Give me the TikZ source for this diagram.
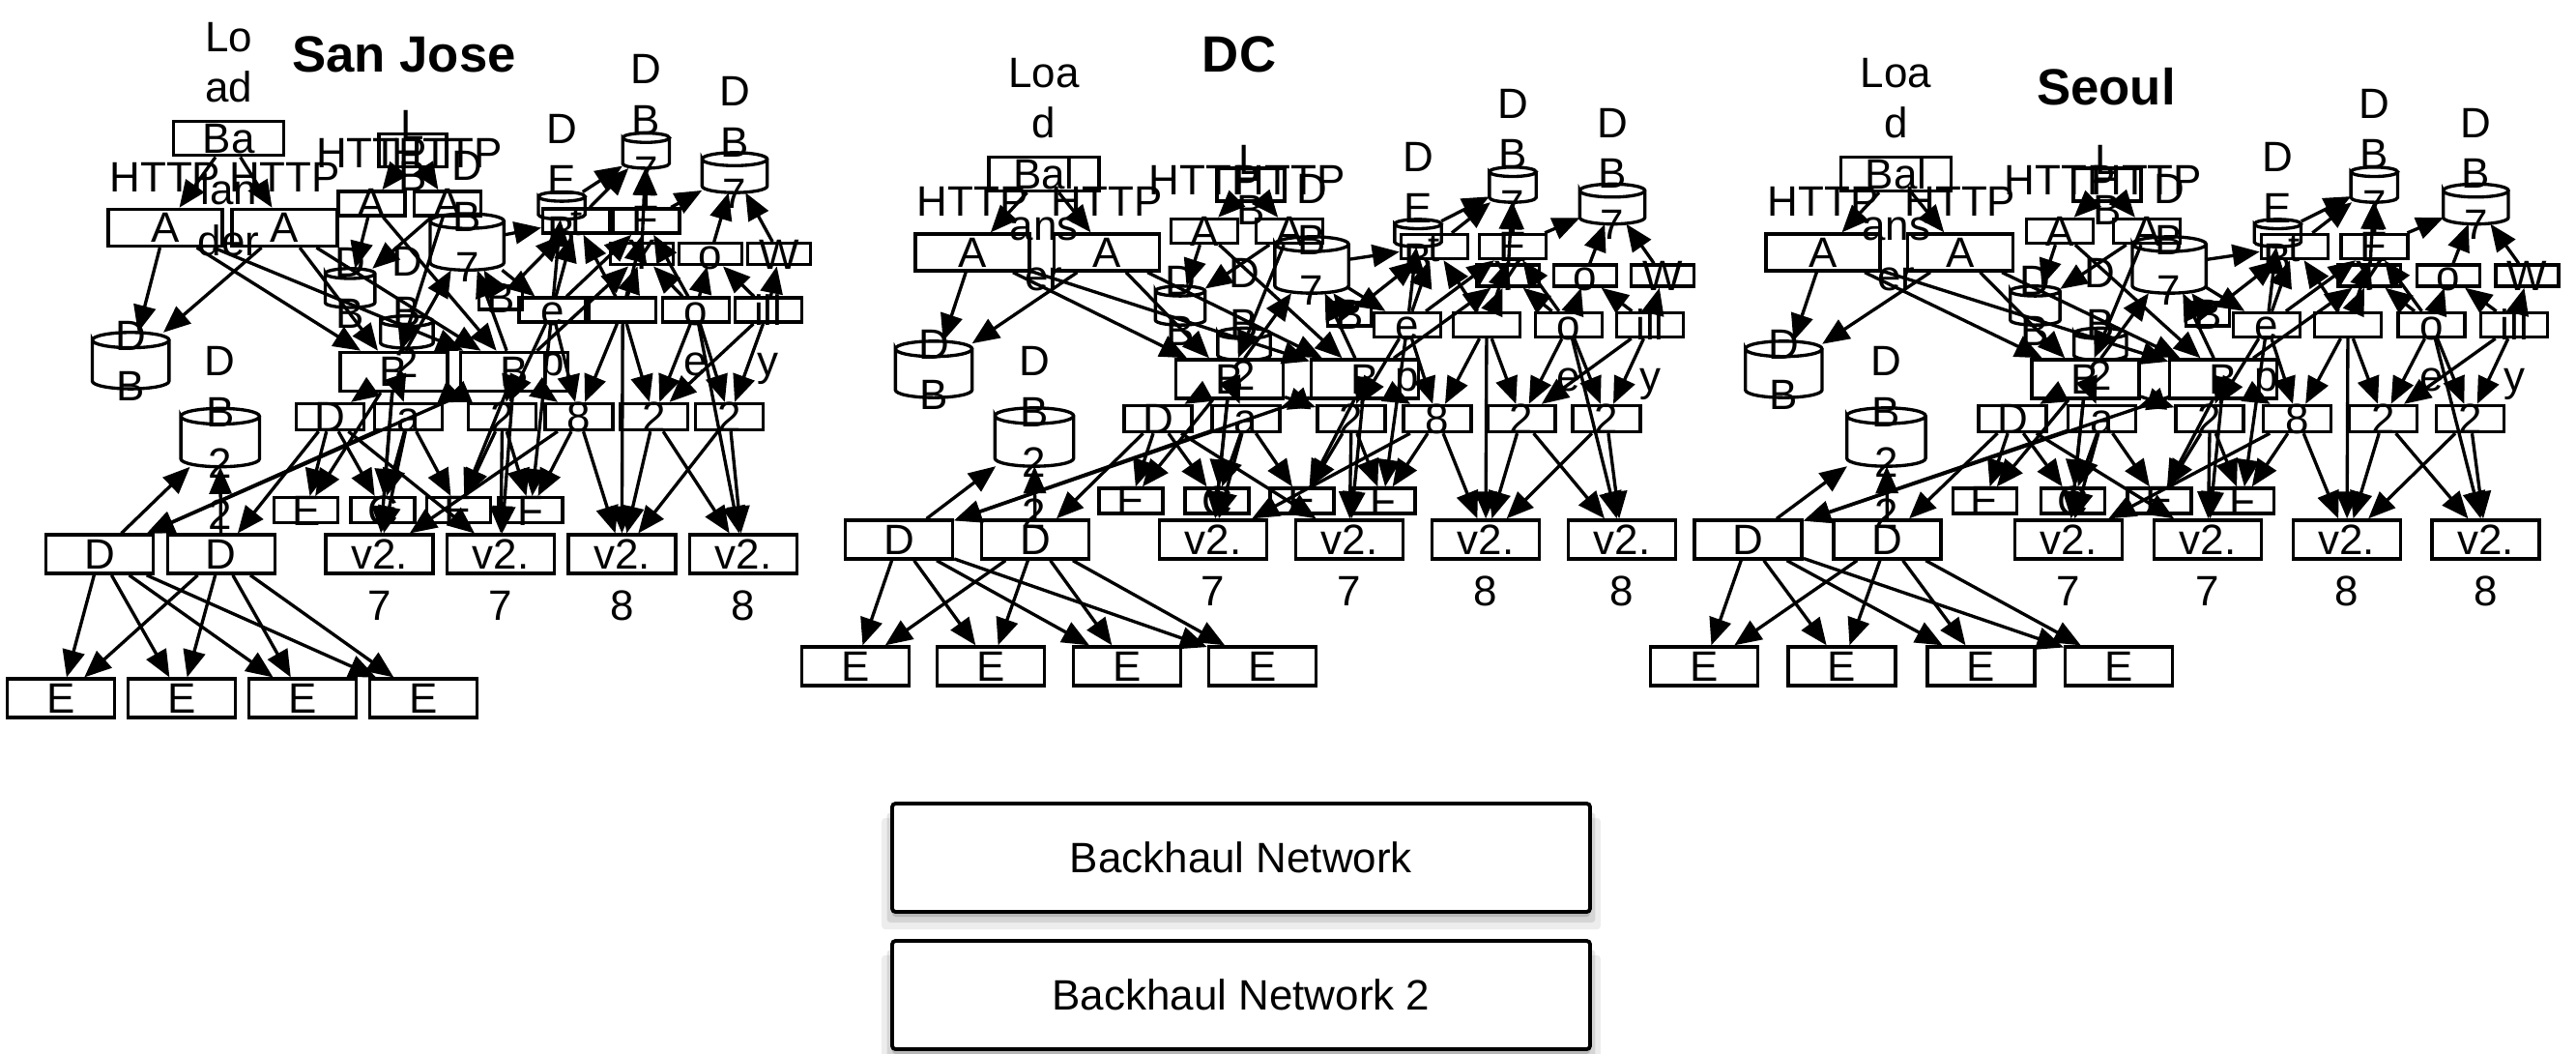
\documentclass[tikz,border=0pt]{standalone}
\usepackage{fontspec}
\setmainfont{Liberation Sans}
\usetikzlibrary{arrows.meta}
\usetikzlibrary{calc,shadows}
\tikzset{
  box/.style={draw, rectangle, inner sep=0pt, line width=1.9pt},
  wide/.style={minimum width=2.22cm, minimum height=.8cm},
  narrow/.style={minimum width=1.38cm, minimum height=.5cm},
  sitename/.style={font=\bfseries\fontsize{30}{36}\selectfont},
  haul/.style={draw, line width=2.2pt, rounded corners=2pt, fill=white,
    minimum width=14.44cm, minimum height=2.24cm,
    general shadow={fill=black, opacity=.07, shadow scale=1.03, shadow yshift=-.32cm},
    general shadow={fill=black, opacity=.1, shadow scale=1.015, shadow yshift=-.2cm},
    general shadow={fill=black, opacity=.14, shadow yshift=-.1cm}}
}
% text that runs out of its box, centred on the box
\newcommand\ov[2][0]{\makebox[0pt]{\smash{\raisebox{\dimexpr#1\baselineskip-.36em\relax}{\begin{tabular}{@{}c@{}}#2\end{tabular}}}}}
% database: name, position, width, height, raise, text
\newcommand\dbnode[6]{%
  \node[box,draw=none,minimum width=#3,minimum height=#4] (#1) at (#2) {\ov[#5]{#6}};
  \draw[reset cm,line width=1.9pt] let \p1=(#1.north west), \p2=(#1.south east),
      \n1={(\x2-\x1)/2}, \n2={.2*(\x2-\x1)/2} in
    (\x1,\y1-\n2) arc[start angle=180,end angle=-180,x radius=\n1,y radius=\n2]
    -- (\x1,\y2+\n2) arc[start angle=180,end angle=360,x radius=\n1,y radius=\n2]
    -- (\x2,\y1-\n2);
}

% one site, drawn in DC coordinates
\newcommand\drawsite[1]{%
  \node[box,minimum width=2.28cm,minimum height=.7cm] (lb) at (21.6,-3.6) {\ov{#1}};
  \node[box,minimum width=1.4cm,minimum height=.68cm] (lb2) at (25.88,-3.82) {\ov{L\\B}};
  \node[box,minimum width=2.36cm,minimum height=.76cm] (a1) at (20.12,-5.22) {\ov[.5]{HTTP\\A}};
  \node[box,minimum width=2.18cm,minimum height=.76cm] (a2) at (22.9,-5.22) {\ov[.5]{HTTP\\A}};
  \node[box,narrow] (a3) at (24.92,-4.78) {\ov[.5]{HTTP\\A}};
  \node[box,narrow] (a4) at (26.68,-4.78) {\ov[.5]{HTTP\\A}};
  \dbnode{db1}{19.32,-7.64}{1.52cm}{1.1cm}{0}{D\\B}
  \dbnode{db2}{21.4,-9.04}{1.56cm}{1.14cm}{0}{D\\B\\2\\2}
  \dbnode{db7}{27.14,-5.48}{1.46cm}{1.1cm}{.5}{D\\B\\7}
  \dbnode{dbs1}{24.42,-6.32}{.96cm}{.74cm}{0}{D\\B}
  \dbnode{dbs2}{25.74,-7.12}{1.02cm}{.6cm}{.4}{D\\B\\2}
  \dbnode{dbe}{29.34,-4.82}{.9cm}{.5cm}{.5}{D\\E\\B}
  \dbnode{dbt}{31.3,-3.82}{.9cm}{.66cm}{.6}{D\\B\\7}
  \dbnode{dbw}{33.36,-4.22}{1.28cm}{.76cm}{.6}{D\\B\\7}
  \node[box,wide] (b1) at (25.44,-7.84) {\ov{B}};
  \node[box,wide] (b2) at (28.24,-7.84) {\ov{B}};
  \node[box,minimum width=.9cm,minimum height=.48cm] (bs) at (27.92,-6.5) {\ov{B}};
  \foreach \n/\x/\t in {1/29.68/t,2/31.3/E}
    \node[box,narrow] (t\n) at (\x,-5.1) {\ov{\t}};
  \foreach \n/\x/\t in {1/31.2/Y,2/32.8/o,3/34.4/W}
    \node[box,minimum width=1.3cm,minimum height=.44cm] (u\n) at (\x,-5.7) {\ov{\t}};
  \foreach \n/\x/\t in {1/29.12/e\\p,2/30.76//\\e,3/32.46/o\\e,4/34.14/ill\\y}
    \node[box,narrow] (r\n) at (\x,-6.72) {\ov[-.5]{\t}};
  \foreach \n/\x/\t in {1/23.96/D,2/25.78/a,3/27.96/2,4/29.74/8,5/31.48/2,6/33.24/2}
    \node[box,minimum width=1.4cm,minimum height=.54cm] (s\n) at (\x,-8.66) {\ov{\t}};
  \foreach \n/\x/\t in {1/23.4/E,2/25.18/C,3/26.94/E,4/28.62/F}
    \node[box,minimum width=1.32cm,minimum height=.52cm] (k\n) at (\x,-10.36) {\ov{\t}};
  \foreach \n/\x/\t in {1/25.1/7,2/27.92/7,3/30.74/8,4/33.56/8}
    \node[box,wide] (v\n) at (\x,-11.16) {\ov[-.5]{v2.\\\t}};
  \foreach \n/\x in {1/18.6,2/21.42}
    \node[box,wide] (d\n) at (\x,-11.16) {\ov{D}};
  \foreach \n/\x in {1/17.7,2/20.5,3/23.32,4/26.12}
    \node[box,wide] (e\n) at (\x,-13.78) {\ov{E}};
  % connectors
  \foreach \a/\b in {lb/a1,lb/a2,lb2/a3,lb2/a4,a1/db1,a2/db1,a1/b1,a2/b1,a1/b2,a2/b2,
      a3/dbs1,a4/dbs1,a3/b2,a4/b1,b1/db7,b2/db7,bs/db7,db7/r1,db7/t1,
      r1/t1,r1/t2,r2/t1,r2/t2,r2/u1,r3/t2,r3/u1,r3/u2,r4/u2,r4/u3,r1/dbe,bs/t1,b2/u1,
      t1/dbt,t2/dbt,u1/dbt,t2/dbw,u2/dbw,u3/dbw,dbe/dbt}
    \draw[conn] (\a) -- (\b);
  \foreach \a/\b in {b1/s1,b1/s2,b1/s3,b1/k1,b1/k2,b1/v1,b2/s2,b2/s3,b2/s4,b2/k3,b2/v2,b2/d1,
      r1/s3,r1/s4,r1/k4,r2/s4,r2/s5,r2/v3,r3/s5,r3/s6,r3/v4,r4/s6,r4/s5,
      s1/k1,s1/k2,s1/v2,s2/k2,s2/k3,s2/v1,s2/d1,s3/k3,s3/v2,s3/k4,s4/k4,s4/v3,s4/v1,
      s5/v4,s5/v3,s6/v4,s6/v3,s1/d2,d1/db2,d2/db2}
    \draw[conn] (\a) -- (\b);
  \foreach \a in {d1,d2}
    \foreach \b in {e1,e2,e3,e4}
      \draw[conn] (\a) -- (\b);
}

\begin{document}
\begin{tikzpicture}[
% arrow heads for all connectors
conn/.style={line width=1.9pt,-{Triangle[length=.56cm,width=.46cm]}},
every node/.style={font=\fontsize{25}{30}\selectfont}]
\useasboundingbox (0,0) rectangle (53.3,-21.78);

\node[sitename] (sjname) at (8.36,-1.12) {San Jose};
\node[sitename] (dcname) at (25.64,-1.12) {DC};
\node[sitename] (seoulname) at (43.58,-1.8) {Seoul};

\begin{scope}[name prefix=sj-, shift={(-14.49,1.228)}, xscale=.89, yscale=1.137]
  \drawsite{Lo\\ad\\Ba\\lan\\der}
\end{scope}
\begin{scope}[name prefix=dc-]
  \drawsite{Loa\\d\\Bal\\ans\\er}
\end{scope}
\begin{scope}[name prefix=seoul-, xshift=17.2cm, xscale=1.02]
  \drawsite{Loa\\d\\Bal\\ans\\er}
\end{scope}

\node[haul] (bh1) at (25.68,-17.74) {Backhaul Network};
\node[haul] (bh2) at (25.68,-20.58) {Backhaul Network 2};
\end{tikzpicture}
\end{document}
